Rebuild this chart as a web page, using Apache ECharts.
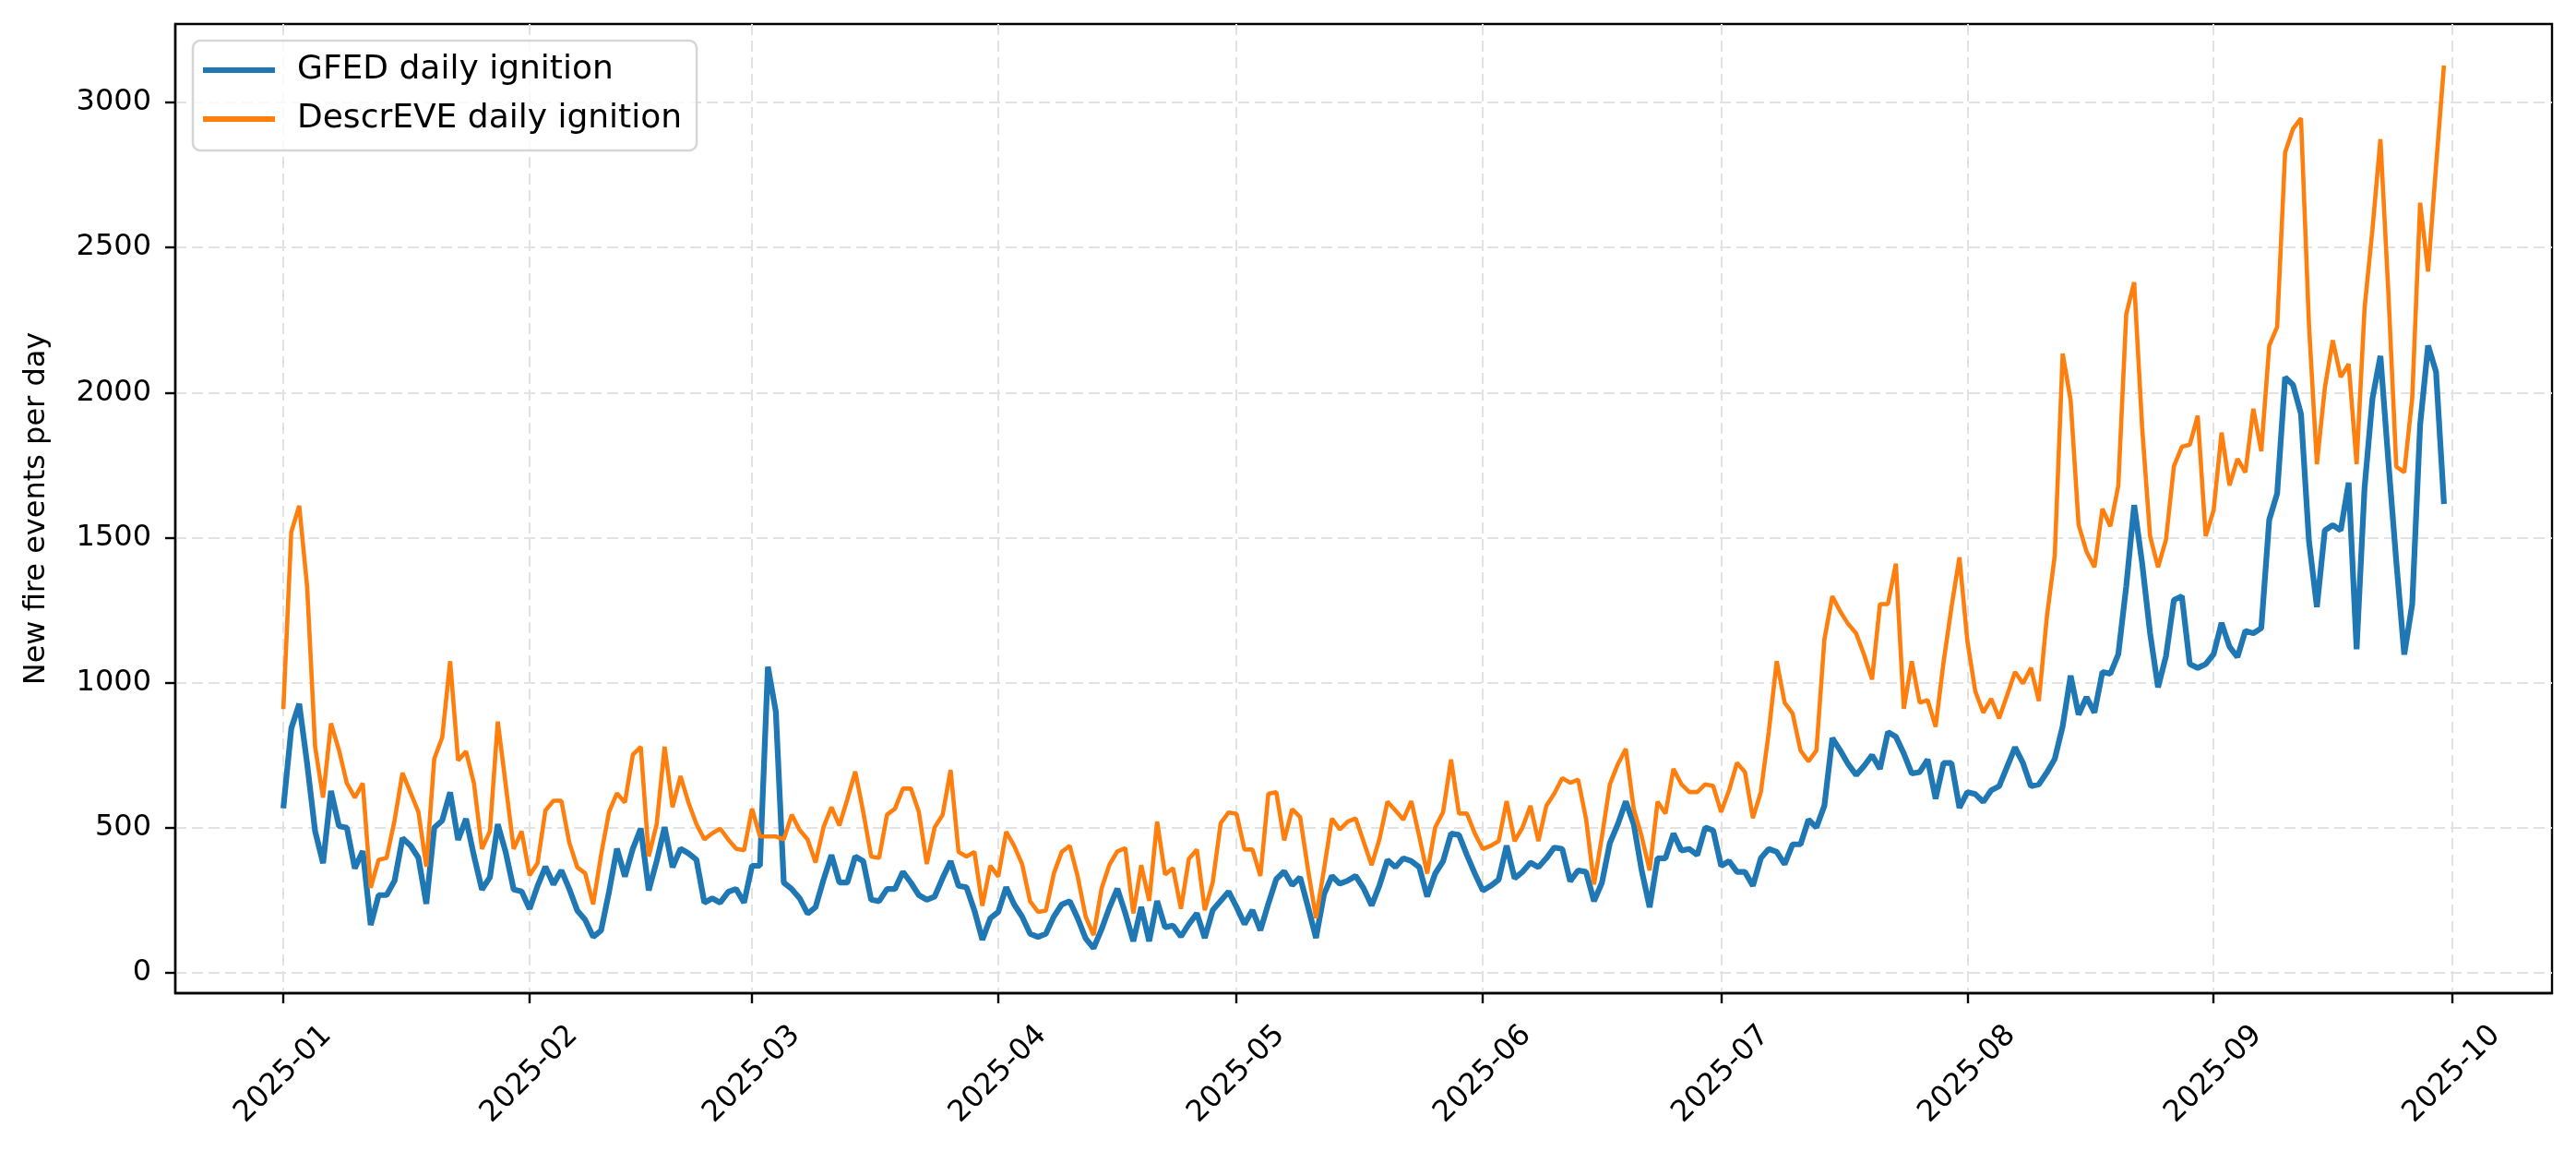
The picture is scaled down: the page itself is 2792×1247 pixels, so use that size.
<!DOCTYPE html>
<html>
<head>
<meta charset="utf-8">
<script src="https://cdn.jsdelivr.net/npm/echarts@6/dist/echarts.min.js"></script>
<style>
  html, body { margin: 0; padding: 0; background: #fff; }
  #chart { width: 2792px; height: 1247px; }
</style>
</head>
<body>
<div id="chart"></div>
<script>
var startDate = "2025-01-01";
var tickLabels = ["2025-01", "2025-02", "2025-03", "2025-04", "2025-05", "2025-06", "2025-07", "2025-08", "2025-09", "2025-10"];
var yTicks = [0, 500, 1000, 1500, 2000, 2500, 3000];

// GFED daily ignition, one value per day from 2025-01-01
var gfedDaily = [
    567, 842, 927, 720, 488, 378, 627, 506, 500, 360,
    420, 165, 268, 268, 317, 464, 439, 397, 238, 500,
    525, 622, 458, 531, 403, 287, 329, 512, 415, 287,
    281, 220, 299, 366, 305, 353, 289, 215, 183, 124,
    146, 279, 428, 332, 428, 497, 284, 385, 502, 364,
    428, 412, 390, 242, 257, 242, 279, 289, 242, 369,
    369, 1055, 900, 311, 289, 257, 204, 226, 321, 406,
    311, 311, 401, 385, 252, 247, 289, 289, 348, 311,
    268, 252, 263, 327, 385, 300, 295, 215, 114, 188,
    210, 295, 236, 194, 135, 124, 135, 194, 236, 247,
    188, 119, 85, 150, 225, 290, 205, 109, 227, 109,
    248, 157, 163, 125, 168, 205, 120, 216, 248, 280,
    227, 168, 216, 147, 238, 323, 350, 302, 329, 227,
    120, 270, 334, 307, 318, 334, 291, 232, 302, 389,
    364, 395, 385, 364, 263, 342, 385, 480, 475, 406,
    342, 284, 300, 321, 438, 326, 348, 380, 364, 395,
    432, 427, 316, 353, 348, 247, 311, 448, 512, 591,
    512, 353, 226, 395, 395, 480, 422, 427, 406, 501,
    491, 369, 385, 348, 348, 300, 395, 427, 417, 374,
    443, 443, 528, 501, 576, 809, 766, 719, 682, 713,
    750, 703, 830, 814, 756, 687, 692, 735, 600, 723,
    723, 569, 623, 616, 589, 629, 643, 710, 777, 723,
    643, 650, 690, 737, 850, 1024, 890, 950, 897, 1037,
    1031, 1098, 1332, 1612, 1412, 1171, 984, 1091, 1285, 1298,
    1064, 1051, 1064, 1098, 1206, 1124, 1088, 1179, 1170, 1188,
    1561, 1652, 2053, 2026, 1926, 1489, 1261, 1525, 1543, 1525,
    1689, 1115, 1671, 1980, 2126, 1762, 1416, 1097, 1270, 1889,
    2162, 2071, 1616
];

// DescrEVE daily ignition
var descreveDaily = [
    909, 1519, 1610, 1330, 780, 604, 860, 768, 653, 604,
    653, 293, 390, 396, 525, 689, 622, 555, 366, 738,
    811, 1074, 732, 763, 653, 427, 488, 866, 647, 427,
    488, 336, 378, 560, 593, 593, 449, 364, 343, 236,
    406, 555, 619, 587, 752, 779, 401, 513, 779, 571,
    678, 587, 513, 460, 481, 497, 460, 428, 422, 566,
    470, 470, 470, 460, 545, 492, 460, 380, 502, 571,
    508, 598, 694, 555, 401, 396, 545, 566, 635, 635,
    555, 375, 502, 545, 699, 417, 401, 417, 231, 369,
    332, 486, 438, 375, 247, 210, 215, 343, 417, 438,
    332, 194, 130, 290, 373, 419, 430, 205, 371, 248,
    521, 339, 361, 221, 393, 425, 216, 312, 516, 553,
    548, 425, 425, 334, 617, 623, 457, 564, 537, 355,
    189, 355, 532, 494, 521, 532, 452, 371, 462, 590,
    560, 528, 592, 470, 342, 501, 554, 735, 549, 549,
    480, 427, 438, 454, 592, 454, 501, 576, 454, 576,
    618, 671, 655, 666, 530, 305, 470, 650, 719, 772,
    565, 470, 353, 590, 549, 703, 650, 623, 623, 650,
    644, 554, 629, 724, 692, 533, 623, 830, 1074, 931,
    894, 766, 729, 766, 1149, 1298, 1245, 1202, 1170, 1096,
    1011, 1271, 1271, 1410, 910, 1074, 931, 940, 848, 1070,
    1260, 1432, 1144, 970, 897, 944, 877, 957, 1037, 997,
    1051, 937, 1225, 1438, 2134, 1973, 1545, 1452, 1398, 1599,
    1539, 1679, 2270, 2380, 1880, 1505, 1398, 1492, 1746, 1813,
    1820, 1920, 1505, 1594, 1862, 1680, 1771, 1725, 1944, 1798,
    2162, 2226, 2827, 2909, 2945, 2235, 1753, 2016, 2180, 2053,
    2098, 1753, 2290, 2563, 2873, 2344, 1744, 1725, 1980, 2654,
    2417, 2780, 3127
];

var DAY = 86400000;
var fontFamily = "DejaVu Sans";

function monthStart(label) {
    var p = label.split("-");
    return Date.UTC(+p[0], +p[1] - 1, 1);
}

function toPairs(values) {
    var t0 = Date.parse(startDate + "T00:00:00Z");
    return values.map(function(v, i) { return [t0 + i * DAY, v]; });
}

function fmtMonth(v) {
    var d = new Date(v);
    var m = d.getUTCMonth() + 1;
    return d.getUTCFullYear() + "-" + (m < 10 ? "0" + m : m);
}

var xTicks = tickLabels.map(monthStart);
var t0 = Date.parse(startDate + "T00:00:00Z");
var tLast = t0 + (gfedDaily.length - 1) * DAY;
var xPad = (tLast - t0) * 0.05;  // matplotlib default margin

var gridLine = { show: true, lineStyle: { color: "#e2e2e2", width: 2, type: [12, 6] } };

var chart = echarts.init(document.getElementById("chart"), null, { renderer: "canvas" });
chart.setOption({
    animation: false,
    backgroundColor: "#ffffff",
    grid: {
        left: 190, right: 26, top: 26, bottom: 171,
        show: true, borderColor: "#000", borderWidth: 2.4, backgroundColor: "transparent"
    },
    legend: {
        orient: "vertical",
        left: 209, top: 44,
        padding: [14, 16, 16, 11],
        itemGap: 17,
        itemWidth: 78, itemHeight: 6,
        icon: "rect",
        backgroundColor: "rgba(255,255,255,0.8)",
        borderColor: "#d6d6d6", borderWidth: 2.5, borderRadius: 8,
        textStyle: { fontFamily: fontFamily, fontSize: 36, color: "#000", padding: [0, 0, 0, 19], lineHeight: 36 },
        data: ["GFED daily ignition", "DescrEVE daily ignition"]
    },
    xAxis: {
        type: "value",
        min: t0 - xPad,
        max: tLast + xPad,
        axisLine: { show: true, onZero: false, lineStyle: { color: "#000", width: 2.4 } },
        axisTick: { show: true, length: 11, lineStyle: { color: "#000", width: 2.4 }, customValues: xTicks },
        axisLabel: {
            customValues: xTicks,
            formatter: fmtMonth,
            rotate: 45,
            align: "center",
            verticalAlign: "middle",
            margin: 88,
            fontFamily: fontFamily, fontSize: 32, color: "#000"
        },
        splitLine: gridLine
    },
    yAxis: {
        type: "value",
        min: -70,
        max: 3270,
        name: "New fire events per day",
        nameLocation: "middle",
        nameGap: 134,
        nameTextStyle: { fontFamily: fontFamily, fontSize: 32, color: "#000" },
        axisLine: { show: true, onZero: false, lineStyle: { color: "#000", width: 2.4 } },
        axisTick: { show: true, length: 11, lineStyle: { color: "#000", width: 2.4 }, customValues: yTicks },
        axisLabel: {
            customValues: yTicks,
            formatter: function(v) { return String(v); },
            margin: 26,
            fontFamily: fontFamily, fontSize: 32, color: "#000"
        },
        splitLine: gridLine
    },
    series: [
        {
            name: "GFED daily ignition",
            type: "line",
            data: toPairs(gfedDaily),
            showSymbol: false,
            symbol: "none",
            color: "#1f77b4",
            lineStyle: { color: "#1f77b4", width: 6.2 }
        },
        {
            name: "DescrEVE daily ignition",
            type: "line",
            data: toPairs(descreveDaily),
            showSymbol: false,
            symbol: "none",
            color: "#ff7f0e",
            lineStyle: { color: "#ff7f0e", width: 4.6 }
        }
    ]
});
</script>
</body>
</html>
